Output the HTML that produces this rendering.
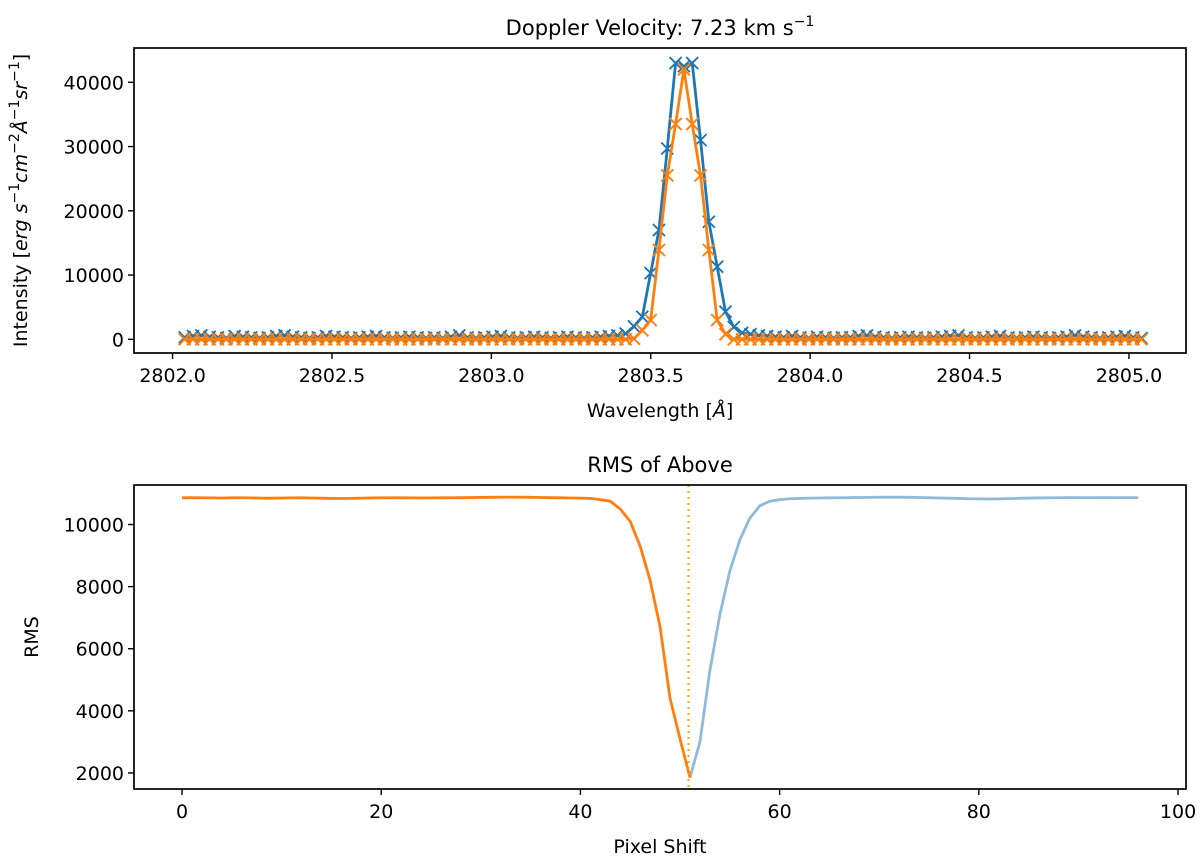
<!DOCTYPE html>
<html><head><meta charset="utf-8"><style>
html,body{margin:0;padding:0;background:#fff;}
svg{display:block;font-family:"DejaVu Sans","Liberation Sans",sans-serif;}
</style></head><body>
<svg id="fig" width="1200" height="863" viewBox="0 0 1200 863" xmlns="http://www.w3.org/2000/svg">
<g id="topPanel"></g>
<g id="botPanel"></g>
</svg>
<script>
// ---- Top chart data ----
const specStart = 2802.038;
const specStep = 0.0261;
const observedIntensity = [
0,0,0,0,0,0,0,0,0,0, 0,0,0,0,0,0,0,0,0,0,
0,0,0,0,0,0,0,0,0,0, 0,0,0,0,0,0,0,0,0,0,
0,0,0,0,0,0,0,0,0,0, 0,0,0,0,100,1400,3000,13900,25500,33500,
42000,33500,25500,13900,3000,800,0,0,0,0, 0,0,0,0,0,0,0,0,0,0,
0,0,0,0,0,0,0,0,0,0, 0,0,0,0,0,0,0,0,0,0,
0,0,0,0,0,0,0,0,0,0, 0,0,0,0,0,0];
const modelIntensity = [
300,500,600,400,300,200,500,400,300,200, 300,500,600,400,300,200,300,500,400,300,
200,300,400,500,300,200,300,400,300,200, 300,200,400,600,300,200,300,400,500,300,
200,300,400,300,200,300,400,300,200,300, 400,500,600,900,2000,3500,10300,17000,29700,43000,
42500,43000,31000,18300,11300,4300,1900,1000,800,600, 500,400,300,500,300,200,400,300,200,300,
300,500,600,400,300,200,300,400,300,200, 300,400,500,600,300,200,300,400,500,300,
200,300,400,300,200,300,400,600,400,300, 200,300,400,500,300,200];
const topXTicks = [2802.0,2802.5,2803.0,2803.5,2804.0,2804.5,2805.0];
const topXTickLabels = ["2802.0","2802.5","2803.0","2803.5","2804.0","2804.5","2805.0"];
const topYTicks = [0,10000,20000,30000,40000];
const topYTickLabels = ["0","10000","20000","30000","40000"];

// ---- Bottom chart data ----
const rmsObserved = [
10860,10865,10862,10858,10855,10860,10862,10858,10850,10848, 10852,10858,10860,10855,10848,10840,10838,10842,10850,10856,
10860,10862,10860,10858,10856,10858,10860,10862,10865,10868, 10872,10876,10880,10882,10880,10876,10870,10865,10860,10855,
10850,10840,10800,10750,10500,10100,9300,8200,6700,4400, 3100,1850];
const rmsModel = [
1850,3000,5300,7100,8500,9500,10200,10600,10750,10800,
10830,10840,10850,10855,10860,10862,10865,10870,10875,10878, 10880,10880,10876,10870,10862,10855,10848,10840,10830,10825,
10822,10826,10835,10845,10852,10856,10860,10862,10864,10866, 10866,10865,10864,10866,10866,10866];
const rmsModelStart = 51;
const bestShift = 50.85;
const botXTicks = [0,20,40,60,80,100];
const botXTickLabels = ["0","20","40","60","80","100"];
const botYTicks = [2000,4000,6000,8000,10000];
const botYTickLabels = ["2000","4000","6000","8000","10000"];

const NS="http://www.w3.org/2000/svg";
function mk(tag, attrs, parent){const e=document.createElementNS(NS,tag);for(const k in attrs)e.setAttribute(k,attrs[k]);parent.appendChild(e);return e;}
const BLUE="#1f77b4", ORANGE="#ff7f0e";

const T={l:134,r:1186,t:48,b:353,x0:2801.879,x1:2805.179,y0:-2130,y1:45340};
const tx=v=>T.l+(v-T.x0)/(T.x1-T.x0)*(T.r-T.l);
const ty=v=>T.b-(v-T.y0)/(T.y1-T.y0)*(T.b-T.t);
const B={l:134,r:1186,t:485,b:789,x0:-4.82,x1:100.8,y0:1483,y1:11273};
const bx=v=>B.l+(v-B.x0)/(B.x1-B.x0)*(B.r-B.l);
const by=v=>B.b-(v-B.y0)/(B.y1-B.y0)*(B.b-B.t);

const topG=document.getElementById('topPanel');
const botG=document.getElementById('botPanel');

function axes(g,A,xt,xl,xf,yt,yl,yf,title,xlabel,ylabel,ylx,prefix){
  let t=mk('text',{x:(A.l+A.r)/2,y:A.t-13,'text-anchor':'middle','font-size':'21',fill:'#000'},g);
  
  
  t.innerHTML=title;
  xt.forEach((v,i)=>{
    const x=xf(v);
    const l=mk('line',{x1:x,x2:x,y1:A.b,y2:A.b+6,stroke:'#000','stroke-width':1.4},g);
    
    
    const tt=mk('text',{x:x,y:A.b+29,'text-anchor':'middle','font-size':'19',fill:'#000'},g);
    
    
    tt.textContent=xl[i];
  });
  yt.forEach((v,i)=>{
    const y=yf(v);
    const l=mk('line',{x1:A.l-6,x2:A.l,y1:y,y2:y,stroke:'#000','stroke-width':1.4},g);
    
    
    const tt=mk('text',{x:A.l-10,y:y+7,'text-anchor':'end','font-size':'19',fill:'#000'},g);
    
    
    tt.textContent=yl[i];
  });
  const xlab=mk('text',{x:(A.l+A.r)/2,y:A.b+64,'text-anchor':'middle','font-size':'19',fill:'#000'},g);
  
  
  xlab.innerHTML=xlabel;
  const cy=(A.t+A.b)/2;
  const ylab=mk('text',{x:ylx,y:cy,'text-anchor':'middle','font-size':'19',fill:'#000',transform:'rotate(-90 '+ylx+' '+cy+')'},g);
  
  
  ylab.innerHTML=ylabel;
}
function frame(g,A,prefix){
  const r=mk('rect',{x:A.l,y:A.t,width:A.r-A.l,height:A.b-A.t,fill:'none',stroke:'#000','stroke-width':1.7},g);
  
  
}

axes(topG,T,topXTicks,topXTickLabels,tx,topYTicks,topYTickLabels,ty,
  'Doppler Velocity: 7.23 km s<tspan dy="-9" font-size="14">−1</tspan>',
  'Wavelength [<tspan font-style="italic">Å</tspan>]',
  'Intensity [<tspan font-style="italic">erg s</tspan><tspan dy="-8" font-size="14">−1</tspan><tspan dy="8" font-style="italic">cm</tspan><tspan dy="-8" font-size="14">−2</tspan><tspan dy="8" font-style="italic">Å</tspan><tspan dy="-8" font-size="14">−1</tspan><tspan dy="8" font-style="italic">sr</tspan><tspan dy="-8" font-size="14">−1</tspan><tspan dy="8">]</tspan>',
  27,'top');

function series(vals,color,name){
  const pts=vals.map((v,i)=>[tx(specStart+i*specStep),ty(v)]);
  const p=mk('polyline',{points:pts.map(p=>p.join(',')).join(' '),fill:'none',stroke:color,'stroke-width':2.8,'stroke-linejoin':'round'},topG);
  
  
  const g=mk('g',{stroke:color,'stroke-width':1.9},topG);
  
  
  pts.forEach(([x,y])=>{
    const m=mk('path',{d:`M${x-6},${y-6}L${x+6},${y+6}M${x-6},${y+6}L${x+6},${y-6}`},g);
    
    
  });
}
series(modelIntensity,BLUE,'model-spectrum');
series(observedIntensity,ORANGE,'observed-spectrum');
frame(topG,T,'top');

axes(botG,B,botXTicks,botXTickLabels,bx,botYTicks,botYTickLabels,by,
  'RMS of Above','Pixel Shift','RMS',38,'bottom');

const pm=mk('polyline',{points:rmsModel.map((v,i)=>bx(rmsModelStart+i)+','+by(v)).join(' '),fill:'none',stroke:BLUE,'stroke-opacity':0.5,'stroke-width':2.8},botG);


const po=mk('polyline',{points:rmsObserved.map((v,i)=>bx(i)+','+by(v)).join(' '),fill:'none',stroke:ORANGE,'stroke-width':2.8},botG);


const vl=mk('line',{x1:bx(bestShift),x2:bx(bestShift),y1:B.t,y2:B.b,stroke:'#ffa500','stroke-width':2,'stroke-dasharray':'2,4'},botG);


frame(botG,B,'bottom');
</script>
</body></html>
